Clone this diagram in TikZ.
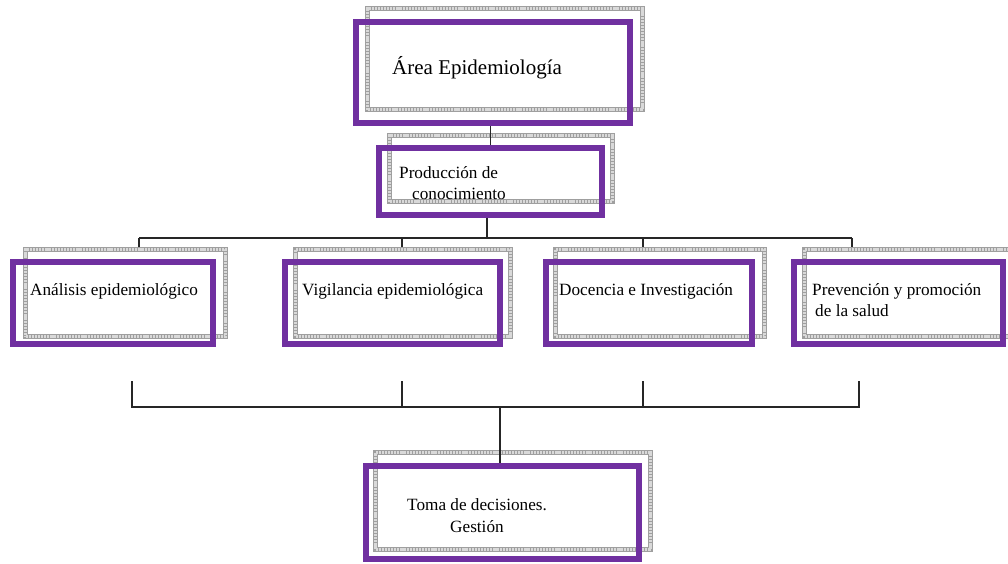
\documentclass[tikz,border=0pt]{standalone}
\usepackage{fontspec}
\setmainfont{Liberation Serif}
\definecolor{ppl}{HTML}{7030A0}
\begin{document}
\begin{tikzpicture}[x=1pt,y=-1pt,
  pbox/.style={draw=ppl, line width=5.5pt, inner sep=0pt, rectangle},
  gbox/.style={draw=gray!75, line width=4.8pt, inner sep=0pt, rectangle,
    postaction={draw=gray!30, line width=2.4pt, dash pattern=on 2.2pt off 0.9pt}},
  txt/.style={anchor=base west, inner sep=0pt, font=\fontsize{17.2}{20}\selectfont},
  conn/.style={draw=black!85, line width=1.2pt}]
\useasboundingbox (0,0) rectangle (1008,563);
% grey back boxes
\node[gbox, minimum width=275pt, minimum height=101pt] (g0) at (505,59) {};
\node[gbox, minimum width=223pt, minimum height=66pt] (g1) at (501,168.5) {};
\node[gbox, minimum width=200pt, minimum height=87pt] (ga) at (125.5,293) {};
\node[gbox, minimum width=215pt, minimum height=87pt] (gb) at (403,293) {};
\node[gbox, minimum width=209pt, minimum height=87pt] (gc) at (660,293) {};
\node[gbox, minimum width=209pt, minimum height=87pt] (gd) at (909,293) {};
\node[gbox, minimum width=275pt, minimum height=97pt] (gz) at (513,501) {};
% purple boxes
\node[pbox, minimum width=274pt, minimum height=101pt] (top) at (493,72.5) {};
\node[pbox, minimum width=223pt, minimum height=67pt] (prod) at (490.5,181.5) {};
\node[pbox, minimum width=200pt, minimum height=82pt] (ba) at (113,303) {};
\node[pbox, minimum width=215pt, minimum height=82pt] (bb) at (392.5,303) {};
\node[pbox, minimum width=206pt, minimum height=82pt] (bc) at (649,303) {};
\node[pbox, minimum width=209pt, minimum height=82pt] (bd) at (898.5,303) {};
\node[pbox, minimum width=273pt, minimum height=93pt] (bz) at (502.5,512.5) {};
% texts
\node[txt, font=\fontsize{21}{24}\selectfont] (t0) at (392,74) {Área Epidemiología};
\node[txt] (t1a) at (399,178) {Producción de};
\node[txt] (t1b) at (412,199) {conocimiento};
\node[txt] (ta) at (30,295) {Análisis epidemiológico};
\node[txt] (tb) at (302,295) {Vigilancia epidemiológica};
\node[txt] (tc) at (559,295) {Docencia e Investigación};
\node[txt] (td1) at (812,295) {Prevención y promoción};
\node[txt] (td2) at (815,316) {de la salud};
\node[txt] (tz1) at (407,510) {Toma de decisiones.};
\node[txt] (tz2) at (450,532) {Gestión};
% upper connectors
\draw[conn] (prod.north |- top.south) -- (prod.north);
\coordinate (hub) at (487,238);
\coordinate (h1) at (139,238);
\coordinate (h2) at (402,238);
\coordinate (h3) at (643,238);
\coordinate (h4) at (852,238);
\draw[conn] (prod.south -| hub) -- (hub);
\draw[conn] (h1) -- (h4);
\draw[conn] (h1) -- (h1 |- ga.north);
\draw[conn] (h2) -- (h2 |- gb.north);
\draw[conn] (h3) -- (h3 |- gc.north);
\draw[conn] (h4) -- (h4 |- gd.north);
% lower bracket
\coordinate (l1) at (132,381);
\coordinate (l2) at (402,381);
\coordinate (l3) at (643,381);
\coordinate (l4) at (859,381);
\coordinate (lh) at (500,407);
\draw[conn] (l1) -- (l1 |- lh) -- (l4 |- lh) -- (l4);
\draw[conn] (l2) -- (l2 |- lh);
\draw[conn] (l3) -- (l3 |- lh);
\draw[conn] (lh) -- (lh |- bz.north);
\end{tikzpicture}
\end{document}
